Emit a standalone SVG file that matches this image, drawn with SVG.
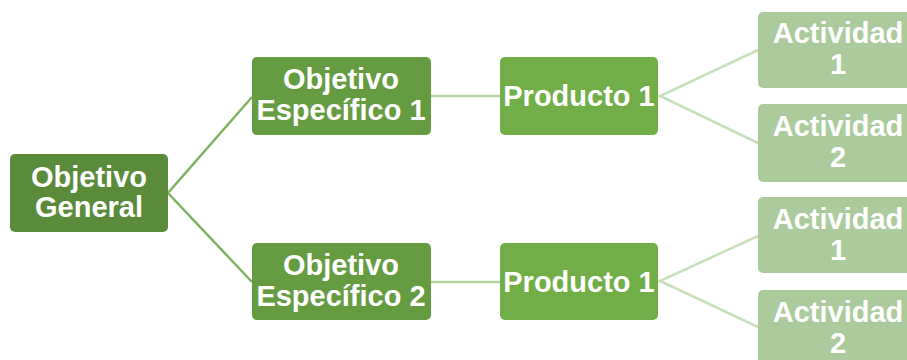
<svg xmlns="http://www.w3.org/2000/svg" width="907" height="360" viewBox="0 0 907 360">
<style>
text{font-family:"Liberation Sans",Arial,sans-serif;font-weight:bold;font-size:29px;fill:#fff;text-anchor:middle}
.og{fill:#5a8b3a}
.oe{fill:#659c41}
.pr{fill:#71ae48}
.ac{fill:#abcb9c}
.c1{stroke:#7fb360;stroke-width:2.5;fill:none}
.c2{stroke:#b5d4a3;stroke-width:2.5;fill:none}
.c3{stroke:#c8dfbb;stroke-width:2.5;fill:none}
</style>
<rect width="907" height="360" fill="#fff"/>
<g id="connectors">
<polyline class="c1" points="252,97 168,193 252,282"/>
<line class="c2" x1="431" y1="96" x2="500" y2="96"/>
<line class="c2" x1="431" y1="282" x2="500" y2="282"/>
<polyline class="c3" points="758,50 660,96 758,143"/>
<polyline class="c3" points="758,236 660,281 758,327"/>
</g>
<g id="og"><rect class="og" x="10" y="154" width="158" height="78" rx="5"/><text x="89" y="187">Objetivo</text><text x="89" y="217">General</text></g>
<g id="oe1"><rect class="oe" x="252" y="57" width="179" height="78" rx="5"/><text x="341" y="89">Objetivo</text><text x="341" y="120">Específico 1</text></g>
<g id="oe2"><rect class="oe" x="252" y="243" width="179" height="77" rx="5"/><text x="341" y="275">Objetivo</text><text x="341" y="306">Específico 2</text></g>
<g id="p1"><rect class="pr" x="500" y="57" width="158" height="78" rx="5"/><text x="579" y="106">Producto 1</text></g>
<g id="p2"><rect class="pr" x="500" y="243" width="158" height="77" rx="5"/><text x="579" y="292">Producto 1</text></g>
<g id="a1"><rect class="ac" x="758" y="12" width="160" height="76" rx="5"/><text x="838" y="43">Actividad</text><text x="838" y="74">1</text></g>
<g id="a2"><rect class="ac" x="758" y="104" width="160" height="78" rx="5"/><text x="838" y="136">Actividad</text><text x="838" y="167">2</text></g>
<g id="a3"><rect class="ac" x="758" y="197" width="160" height="76" rx="5"/><text x="838" y="229">Actividad</text><text x="838" y="260">1</text></g>
<g id="a4"><rect class="ac" x="758" y="290" width="160" height="78" rx="5"/><text x="838" y="322">Actividad</text><text x="838" y="353">2</text></g>
</svg>
